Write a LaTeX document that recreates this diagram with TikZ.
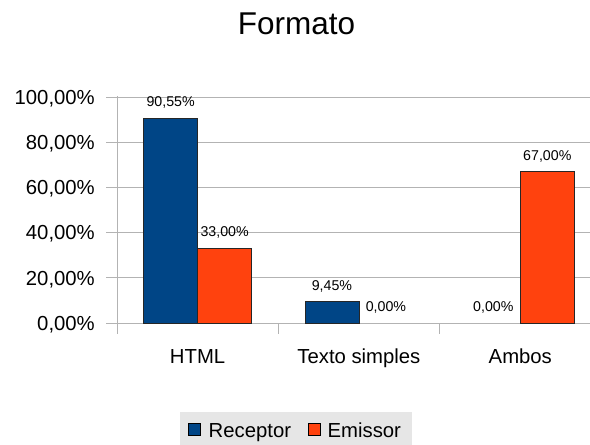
\documentclass[tikz,border=0pt]{standalone}
\usepackage{fontspec}
\setmainfont{Liberation Sans}
\definecolor{recblue}{HTML}{004586}
\definecolor{emiorange}{HTML}{FF420E}
\definecolor{gridgray}{HTML}{B3B3B3}
\definecolor{legendgray}{HTML}{E6E6E6}
\begin{document}
\begin{tikzpicture}[x=1pt,y=-1pt,
  gridline/.style={draw=gridgray, line width=1pt},
  barbox/.style={draw=black!85, line width=0.8pt},
  ticklabel/.style={font=\fontsize{20.3}{24}\selectfont, anchor=base east, inner sep=0pt},
  catlabel/.style={font=\fontsize{20.3}{24}\selectfont, anchor=base, inner sep=0pt},
  vallabel/.style={font=\fontsize{14.2}{16}\selectfont, anchor=base, inner sep=0pt},
  legendtext/.style={font=\fontsize{20.3}{24}\selectfont, anchor=base west, inner sep=0pt},
]
\useasboundingbox (0,0) rectangle (590,445);
\fill[white] (0,0) rectangle (590,445);

% title
\node[font=\fontsize{31.5}{36}\selectfont, anchor=base, inner sep=0pt] (title) at (296.5,34) {Formato};

% grid lines and value axis labels (0 at y=323, 100 at y=97)
\foreach \v in {0,20,...,100} {
  \draw[gridline] (106,{323-2.26*\v}) -- (590,{323-2.26*\v});
  \node[ticklabel] (y\v) at (95,{323-2.26*\v+7.2}) {\v,00\%};
}
% value axis and category ticks
\draw[gridline] (117,96) -- (117,334);
\draw[gridline] (278.3,323) -- (278.3,334);
\draw[gridline] (439.6,323) -- (439.6,334);

% bars: category centre, receptor value, emissor value, printed values, name, label
\foreach \c/\r/\e/\rl/\el/\n/\lab in {
    197.6/90.55/33.00/{90,55}/{33,00}/html/HTML,
    358.9/9.45/0.00/{9,45}/{0,00}/texto/Texto simples,
    520.3/0.00/67.00/{0,00}/{67,00}/ambos/Ambos} {
  \ifdim\r pt>0pt
    \draw[barbox, fill=recblue] ({\c-54},323) rectangle (\c,{323-2.26*\r});
  \fi
  \ifdim\e pt>0pt
    \draw[barbox, fill=emiorange] (\c,323) rectangle ({\c+54},{323-2.26*\e});
  \fi
  \node[vallabel] (r-\n) at ({\c-27},{323-2.26*\r-11.5}) {\rl\%};
  \node[vallabel] (e-\n) at ({\c+27},{323-2.26*\e-11.5}) {\el\%};
  \node[catlabel] (cat-\n) at (\c,363.3) {\lab};
}

% legend
\fill[legendgray] (180,411.7) rectangle (412.3,445);
\draw[fill=recblue, draw=black, line width=0.8pt] (188.3,423.3) rectangle (200.7,435.7);
\node[legendtext] (leg-rec) at (208.5,437.3) {Receptor};
\draw[fill=emiorange, draw=black, line width=0.8pt] (308.3,423.3) rectangle (320.7,435.7);
\node[legendtext] (leg-emi) at (327.5,437.3) {Emissor};
\end{tikzpicture}
\end{document}
